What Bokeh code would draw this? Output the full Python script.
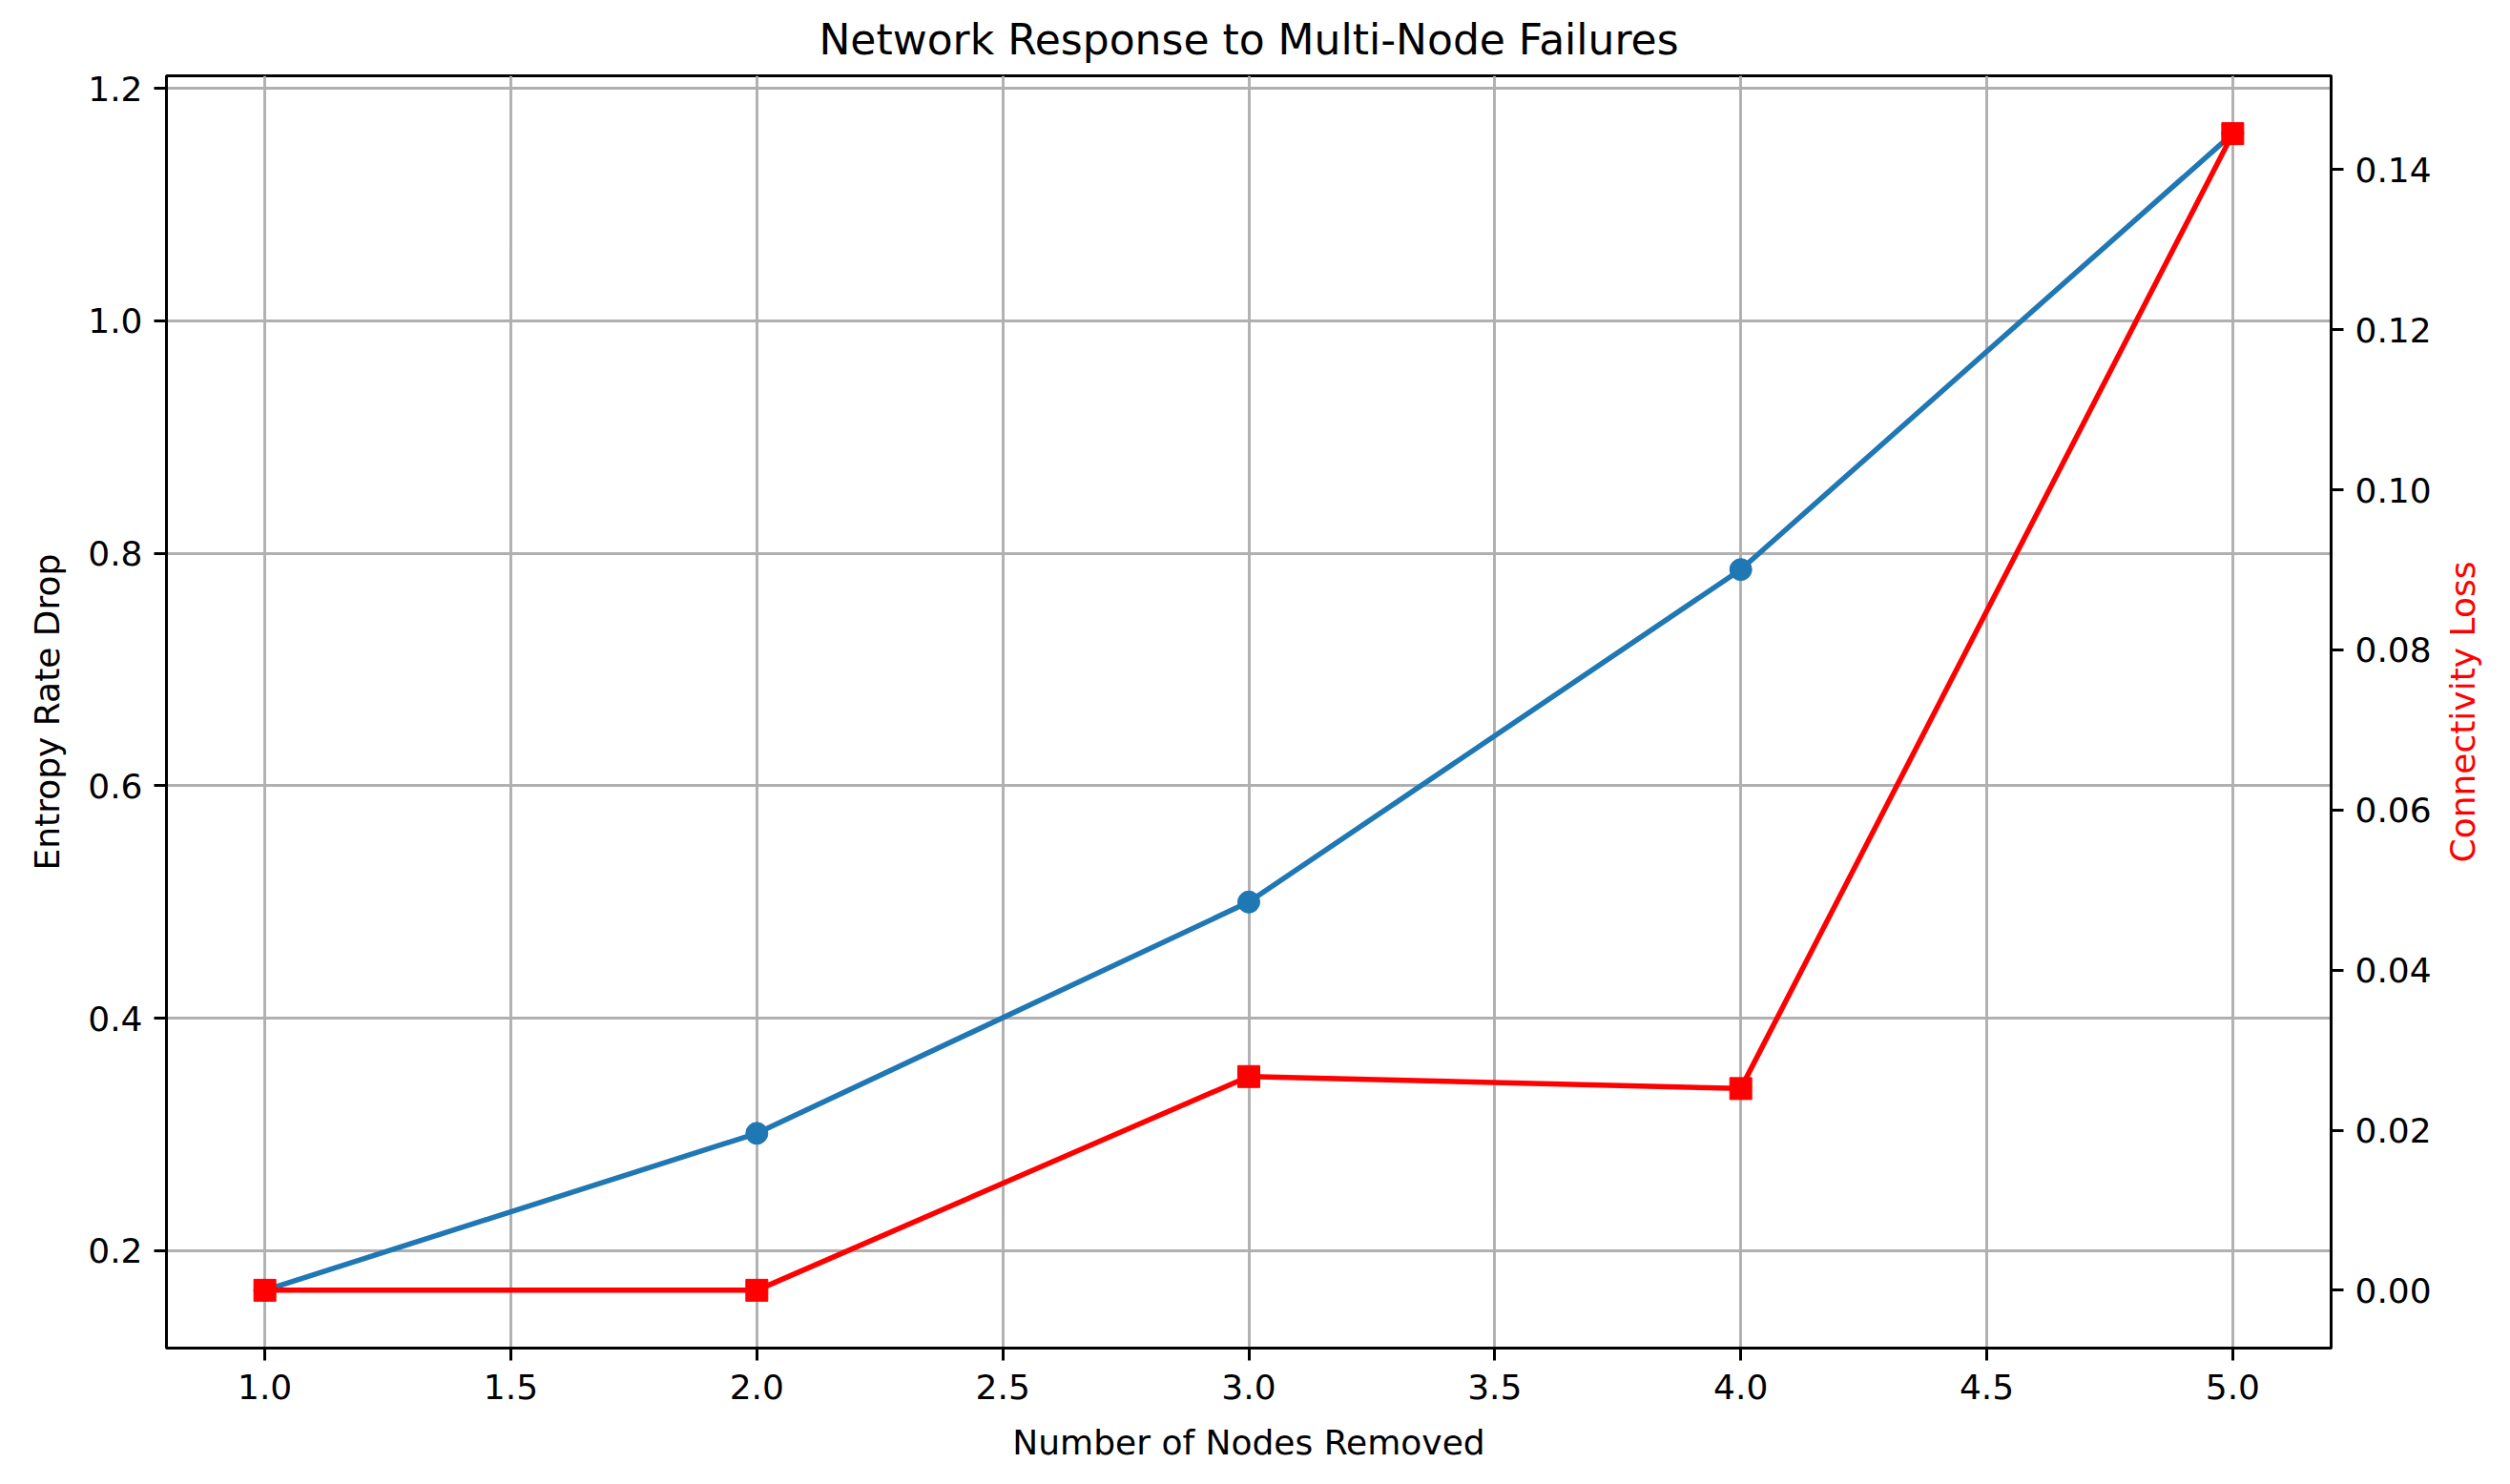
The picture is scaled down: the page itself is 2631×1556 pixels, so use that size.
import math
from bokeh.plotting import figure
from bokeh.models import Range1d, LinearAxis, FixedTicker, NumeralTickFormatter, Label
from bokeh.embed import file_html
from bokeh.resources import INLINE

# ---- data ----
nodes_removed = [1, 2, 3, 4, 5]
entropy_rate_drop = [0.166, 0.301, 0.500, 0.786, 1.161]
connectivity_loss = [0.0, 0.0, 0.0267, 0.0252, 0.1445]

x_ticks = [1.0, 1.5, 2.0, 2.5, 3.0, 3.5, 4.0, 4.5, 5.0]
left_ticks = [0.2, 0.4, 0.6, 0.8, 1.0, 1.2]
right_ticks = [0.00, 0.02, 0.04, 0.06, 0.08, 0.10, 0.12, 0.14]

title_text = "Network Response to Multi-Node Failures"
x_label = "Number of Nodes Removed"
left_label = "Entropy Rate Drop"
right_label = "Connectivity Loss"

FONT = "DejaVu Sans"
BLUE = "#1f77b4"
RED = "#ff0000"


def padded(vals, frac=0.05):
    lo, hi = min(vals), max(vals)
    m = (hi - lo) * frac
    return lo - m, hi + m


x0, x1 = padded(nodes_removed)
y0, y1 = padded(entropy_rate_drop)
r0, r1 = padded(connectivity_loss)

W, H = 2615, 1540
FL, FR, FT, FB = 174, 2443, 79, 1413   # frame edges in pixels
RIGHT_LABEL_PX = 2581                  # centre of right-axis label, pixels
p = figure(
    width=W, height=H,
    x_range=Range1d(x0, x1), y_range=Range1d(y0, y1),
    output_backend="svg", toolbar_location=None,
    min_border_left=FL, min_border_right=W - FR,
    min_border_top=FT, min_border_bottom=H - FB,
)
p.extra_y_ranges = {"right": Range1d(r0, r1)}

p.title.text = title_text
p.title.text_font = FONT
p.title.text_font_size = "44px"
p.title.text_font_style = "normal"
p.title.align = "center"
p.title.text_color = "black"
p.title.standoff = 26

p.outline_line_color = "black"
p.outline_line_width = 3
p.outline_line_alpha = 1.0

right_axis = LinearAxis(y_range_name="right")
p.add_layout(right_axis, "right")

for ax in [p.xaxis[0], p.yaxis[0], right_axis]:
    ax.axis_line_color = "black"
    ax.axis_line_width = 3
    ax.major_tick_line_color = "black"
    ax.major_tick_line_width = 3
    ax.major_tick_out = 13
    ax.major_tick_in = 0
    ax.minor_tick_line_color = None
    ax.major_label_text_font = FONT
    ax.major_label_text_font_size = "36px"
    ax.major_label_text_color = "black"
    ax.major_label_standoff = 12
    ax.axis_label_text_font = FONT
    ax.axis_label_text_font_size = "36px"
    ax.axis_label_text_font_style = "normal"
    ax.axis_label_standoff = 14

p.xaxis[0].ticker = FixedTicker(ticks=x_ticks)
p.xaxis[0].formatter = NumeralTickFormatter(format="0.0")
p.xaxis[0].axis_label = x_label
p.xaxis[0].axis_label_text_color = "black"
p.xaxis[0].major_label_standoff = 14
p.xaxis[0].axis_label_standoff = 22

p.yaxis[0].ticker = FixedTicker(ticks=left_ticks)
p.yaxis[0].formatter = NumeralTickFormatter(format="0.0")
p.yaxis[0].axis_label = left_label
p.yaxis[0].axis_label_text_color = "black"
p.yaxis[0].axis_label_standoff = 19

right_axis.ticker = FixedTicker(ticks=right_ticks)
right_axis.formatter = NumeralTickFormatter(format="0.00")

# right axis label, reading bottom-to-top as in the reference;
# placed in the right side panel so that it is not clipped to the frame
label_x = x0 + (RIGHT_LABEL_PX - FL) / (FR - FL) * (x1 - x0)
p.add_layout(Label(
    x=label_x, y=(y0 + y1) / 2, x_units="data", y_units="data",
    text=right_label, angle=math.pi / 2,
    text_align="center", text_baseline="middle",
    text_font=FONT, text_font_size="36px", text_color=RED,
), "right")

p.xgrid.ticker = FixedTicker(ticks=x_ticks)
p.ygrid.ticker = FixedTicker(ticks=left_ticks)
for g in [p.xgrid[0], p.ygrid[0]]:
    g.grid_line_color = "#b0b0b0"
    g.grid_line_width = 2.9

p.line(nodes_removed, entropy_rate_drop, line_color=BLUE, line_width=5.5)
p.scatter(nodes_removed, entropy_rate_drop, marker="circle", size=23,
          fill_color=BLUE, line_color=BLUE)

p.line(nodes_removed, connectivity_loss, line_color=RED, line_width=5.5,
       y_range_name="right")
p.scatter(nodes_removed, connectivity_loss, marker="square", size=23,
          fill_color=RED, line_color=RED, y_range_name="right")

open("out.html", "w").write(file_html(p, INLINE))
